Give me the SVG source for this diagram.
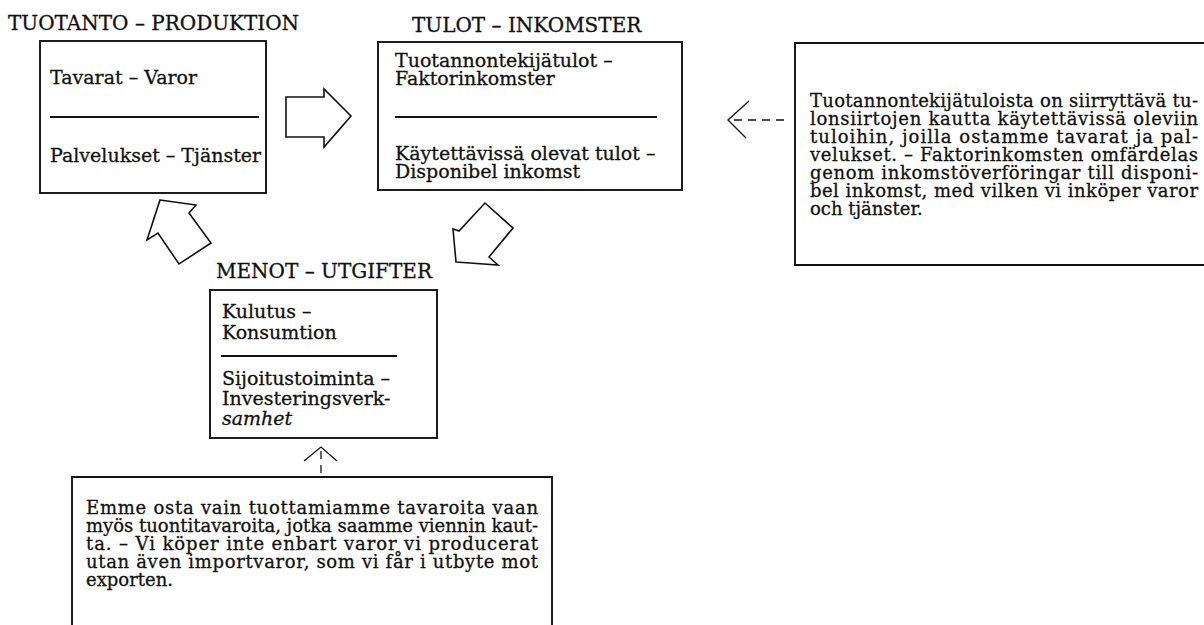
<svg xmlns="http://www.w3.org/2000/svg" width="1204" height="625" viewBox="0 0 1204 625">
<defs>
<style>
.bg{fill:#fff}
.box{fill:none;stroke:#111;stroke-width:1.9}
.rule{stroke:#111;stroke-width:1.9}
text{font-family:"DejaVu Serif","Liberation Serif",serif;fill:#111;stroke:#111;stroke-width:0.3}
.title{font-size:20px}
.t{font-size:19px}
.p{font-size:18px}
.it{font-style:italic}
.hollow{fill:#fff;stroke:#111;stroke-width:1.6;stroke-linejoin:miter}
.thin{fill:none;stroke:#111;stroke-width:1.3}
.dash{fill:none;stroke:#111;stroke-width:1.3;stroke-dasharray:8 6}
</style>
</defs>
<rect class="bg" x="0" y="0" width="1204" height="625"/>

<g id="tuotanto">
<text class="title" x="8" y="30">TUOTANTO – PRODUKTION</text>
<rect class="box" x="40" y="41" width="226" height="152"/>
<text class="t" x="50" y="84">Tavarat – Varor</text>
<line class="rule" x1="50" y1="117" x2="259" y2="117"/>
<text class="t" x="50" y="162">Palvelukset – Tjänster</text>
</g>

<g id="tulot">
<text class="title" x="412" y="32">TULOT – INKOMSTER</text>
<rect class="box" x="378" y="42" width="304" height="148"/>
<text class="t" x="395" y="67">Tuotannontekijätulot –</text>
<text class="t" x="395" y="85">Faktorinkomster</text>
<line class="rule" x1="395" y1="117" x2="657" y2="117"/>
<text class="t" x="395" y="160">Käytettävissä olevat tulot –</text>
<text class="t" x="395" y="178">Disponibel inkomst</text>
</g>

<g id="menot">
<text class="title" x="216" y="278">MENOT – UTGIFTER</text>
<rect class="box" x="210" y="290" width="227" height="148"/>
<text class="t" x="222" y="318">Kulutus –</text>
<text class="t" x="222" y="339">Konsumtion</text>
<line class="rule" x1="221" y1="356" x2="397" y2="356"/>
<text class="t" x="222" y="385">Sijoitustoiminta –</text>
<text class="t" x="222" y="405">Investeringsverk-</text>
<text class="t it" x="222" y="425">samhet</text>
</g>

<g id="note-tulonsiirrot">
<path class="box" d="M1204,43 H795 V265 H1204"/>
<text class="p" x="810" y="107" textLength="388" lengthAdjust="spacing">Tuotannontekijätuloista on siirryttävä tu-</text>
<text class="p" x="810" y="125" textLength="388" lengthAdjust="spacing">lonsiirtojen kautta käytettävissä oleviin</text>
<text class="p" x="810" y="143" textLength="388" lengthAdjust="spacing">tuloihin, joilla ostamme tavarat ja pal-</text>
<text class="p" x="810" y="161" textLength="388" lengthAdjust="spacing">velukset. – Faktorinkomsten omfärdelas</text>
<text class="p" x="810" y="179" textLength="388" lengthAdjust="spacing">genom inkomstöverföringar till disponi-</text>
<text class="p" x="810" y="197" textLength="388" lengthAdjust="spacing">bel inkomst, med vilken vi inköper varor</text>
<text class="p" x="810" y="215">och tjänster.</text>
</g>

<g id="note-tuonti">
<path class="box" d="M72,625 V477 H552 V625"/>
<text class="p" x="86" y="514" textLength="452" lengthAdjust="spacing">Emme osta vain tuottamiamme tavaroita vaan</text>
<text class="p" x="86" y="532" textLength="452" lengthAdjust="spacing">myös tuontitavaroita, jotka saamme viennin kaut-</text>
<text class="p" x="86" y="550" textLength="452" lengthAdjust="spacing">ta. – Vi köper inte enbart varor vi producerat</text>
<text class="p" x="86" y="568" textLength="452" lengthAdjust="spacing">utan även importvaror, som vi får i utbyte mot</text>
<text class="p" x="86" y="586">exporten.</text>
</g>

<g id="connectors">
<polygon class="hollow" points="286,97 324,97 324,89 351,116 324,147 324,137 286,137"/>
<polygon class="hollow" points="456,262 498,265 489,257 513,228 485,203 459,231 453,229"/>
<polygon class="hollow" points="160,200 196,205 189,213 211,243 179,264 158,233 147,240"/>
<polyline class="thin" points="749,101 728,120 746,138"/>
<line class="dash" x1="734" y1="120" x2="784" y2="120"/>
<polyline class="thin" points="304,461 321,447 337,461"/>
<line class="dash" x1="321" y1="451" x2="321" y2="476"/>
</g>
</svg>
